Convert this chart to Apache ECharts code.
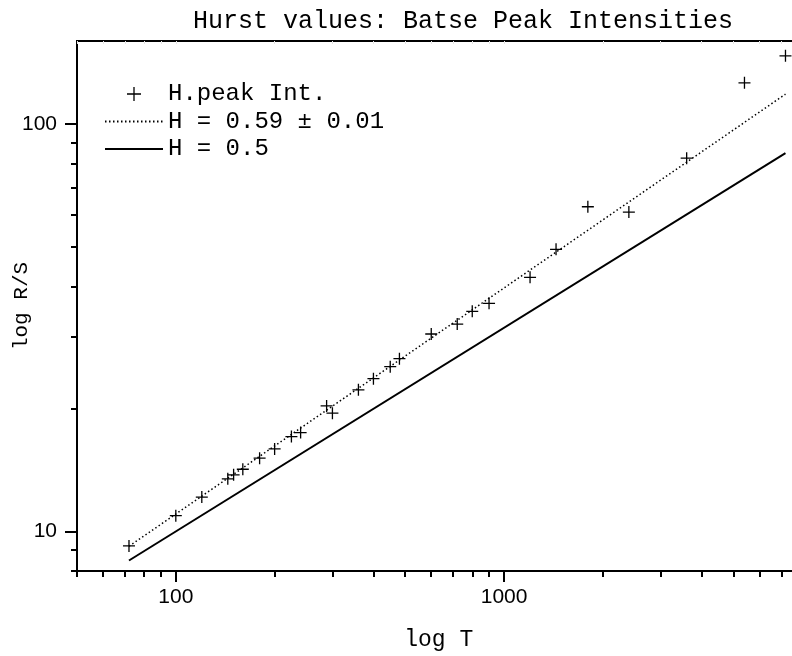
<!DOCTYPE html>
<html>
<head>
<meta charset="utf-8">
<script src="https://cdn.jsdelivr.net/npm/echarts@6/dist/echarts.min.js"></script>
<style>
html, body { margin: 0; padding: 0; background: #fff; }
#chart { width: 792px; height: 656px; }
</style>
</head>
<body>
<div id="chart"></div>
<script>
// Rescaled range R/S against window length T (BATSE peak intensities)
const windowT = [72, 100, 120, 144, 150, 160, 180, 200, 225, 240, 288, 300, 360, 400, 450, 480,
                 600, 720, 800, 900, 1200, 1440, 1800, 2400, 3600, 5400, 7200];
const rescaledRange = [9.22, 10.94, 12.15, 13.47, 13.78, 14.22, 15.14, 15.95, 17.1, 17.49, 20.34, 19.52,
                       22.27, 23.73, 25.39, 26.57, 30.54, 32.31, 34.72, 36.33, 42.07, 49.28, 62.7, 60.83,
                       82.5, 126.3, 147.1];

// Fitted power law (end points) and the H = 0.5 reference (end points)
const fitT = [72, 7200];
const fitRS = [9.2, 118.5];
const halfT = [72, 7200];
const halfRS = [8.49, 84.85];

const seriesNames = ['H.peak Int.', 'H = 0.59 ± 0.01', 'H = 0.5'];
const titleText = 'Hurst values: Batse Peak Intensities';
const xName = 'log T';
const yName = 'log R/S';

// Tick values on the logarithmic axes
const xMajorTicks = [100, 1000];
const xMinorTicks = [50, 60, 70, 80, 90, 200, 300, 400, 500, 600, 700, 800, 900,
                     2000, 3000, 4000, 5000, 6000, 7000];
const yMajorTicks = [10, 100];
const yMinorTicks = [8, 9, 20, 30, 40, 50, 60, 70, 80, 90];

const pairs = (xs, ys) => xs.map((x, i) => [x, ys[i]]);

const MONO = 'Liberation Mono';
const SANS = 'Liberation Sans';
const X_RANGE = { min: 50, max: 8000 };
const Y_RANGE = { min: 8, max: 160 };
const plusPath = 'path://M0,6L12,6M6,0L6,12';
const plusStyle = { color: '#000', borderColor: '#000', borderWidth: 1.3, opacity: 1 };
const noMarker = { color: 'rgba(0,0,0,0)', borderColor: 'rgba(0,0,0,0)', borderWidth: 0 };

const chart = echarts.init(document.getElementById('chart'), null, { renderer: 'canvas' });

const hiddenLog = (extra) => Object.assign({
  type: 'log', logBase: 10,
  axisLine: { show: false, onZero: false },
  axisLabel: { show: false },
  splitLine: { show: false },
  minorTick: { show: false }
}, extra);

chart.setOption({
  animation: false,
  backgroundColor: '#fff',
  title: {
    text: titleText,
    left: 188, top: 4,
    textStyle: { fontFamily: MONO, fontSize: 25, fontWeight: 'normal', color: '#000' }
  },
  grid: {
    left: 77, top: 41, width: 723.5, height: 530,
    show: true, borderColor: '#000', borderWidth: 2,
    containLabel: false, outerBoundsMode: 'none'
  },
  legend: {
    orient: 'vertical',
    left: 99, top: 77,
    itemWidth: 58, itemHeight: 14, itemGap: 3.5,
    selectedMode: false,
    textStyle: { fontFamily: MONO, fontSize: 24, color: '#000', lineHeight: 24, padding: [0, 0, 0, 0] },
    data: [
      { name: seriesNames[0], icon: plusPath, itemStyle: plusStyle },
      { name: seriesNames[1], itemStyle: noMarker },
      { name: seriesNames[2], itemStyle: noMarker }
    ]
  },
  xAxis: [
    {
      type: 'log', logBase: 10, ...X_RANGE, position: 'bottom',
      name: xName, nameLocation: 'middle', nameGap: 57, nameMoveOverlap: false,
      nameTextStyle: { fontFamily: MONO, fontSize: 23, color: '#000' },
      axisLine: { show: true, onZero: false, lineStyle: { color: '#000', width: 2 } },
      axisTick: { show: true, inside: false, length: 11, customValues: xMajorTicks,
                  lineStyle: { color: '#000', width: 2 } },
      axisLabel: { customValues: xMajorTicks, formatter: v => String(v),
                   fontFamily: SANS, fontSize: 21, color: '#000', margin: 16 },
      splitLine: { show: false }
    },
    hiddenLog(Object.assign({ position: 'bottom',
      axisTick: { show: true, inside: false, length: 6, customValues: xMinorTicks,
                  lineStyle: { color: '#000', width: 2 } } }, X_RANGE)),
    hiddenLog(Object.assign({ position: 'top',
      axisTick: { show: true, inside: true, length: 3, customValues: xMajorTicks.concat(xMinorTicks),
                  lineStyle: { color: '#e4e4e4', width: 1 } } }, X_RANGE))
  ],
  yAxis: [
    {
      type: 'log', logBase: 10, ...Y_RANGE, position: 'left',
      name: yName, nameLocation: 'middle', nameGap: 45, nameRotate: 90, nameMoveOverlap: false,
      nameTextStyle: { fontFamily: MONO, fontSize: 21, color: '#000' },
      axisLine: { show: true, onZero: false, lineStyle: { color: '#000', width: 2 } },
      axisTick: { show: true, inside: false, length: 12, customValues: yMajorTicks,
                  lineStyle: { color: '#000', width: 2 } },
      axisLabel: { customValues: yMajorTicks, formatter: v => String(v),
                   fontFamily: SANS, fontSize: 21, color: '#000', margin: 20 },
      splitLine: { show: false }
    },
    hiddenLog(Object.assign({ position: 'left',
      axisTick: { show: true, inside: false, length: 6, customValues: yMinorTicks,
                  lineStyle: { color: '#000', width: 2 } } }, Y_RANGE))
  ],
  series: [
    {
      name: seriesNames[0], type: 'scatter',
      xAxisIndex: 0, yAxisIndex: 0,
      data: pairs(windowT, rescaledRange),
      symbol: plusPath, symbolSize: 12,
      itemStyle: plusStyle,
      z: 5
    },
    {
      name: seriesNames[1], type: 'line',
      xAxisIndex: 0, yAxisIndex: 0,
      data: pairs(fitT, fitRS),
      symbol: 'none',
      itemStyle: { color: '#000' },
      lineStyle: { color: '#000', width: 1.5, type: [1.5, 2.5] }
    },
    {
      name: seriesNames[2], type: 'line',
      xAxisIndex: 0, yAxisIndex: 0,
      data: pairs(halfT, halfRS),
      symbol: 'none',
      itemStyle: { color: '#000' },
      lineStyle: { color: '#000', width: 2, type: 'solid' }
    }
  ]
});
</script>
</body>
</html>
